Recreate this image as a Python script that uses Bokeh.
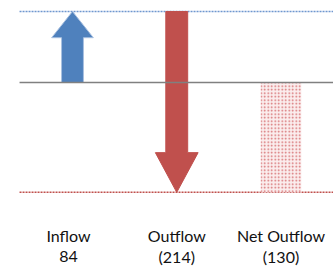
from bokeh.plotting import figure
from bokeh.models import ColumnDataSource, Range1d
from bokeh.embed import file_html
from bokeh.resources import INLINE
from bokeh.core.properties import value

categories = ["Inflow", "Outflow", "Net Outflow"]
values = [84, -214, -130]

inflow = values[0]
outflow = values[1]
net = values[2]

def fmt(v):
    return str(v) if v >= 0 else "(%d)" % (-v)

p = figure(width=333, height=267, output_backend="svg", toolbar_location=None,
           x_range=Range1d(-0.6906, 2.5036), y_range=Range1d(-218.9, 97.0),
           min_border=0)
p.axis.visible = False
p.grid.visible = False
p.outline_line_color = None
p.background_fill_color = "white"
p.border_fill_color = "white"

def arrow(x, y0, y1, w, W, h):
    d = 1 if y1 > y0 else -1
    yb = y1 - d * h
    return ([x - w, x + w, x + w, x + W, x, x - W, x - w],
            [y0, y0, yb, yb, y1, yb, yb])

xs1, ys1 = arrow(0, 0, inflow, 0.105, 0.2, 31)
xs2, ys2 = arrow(1, inflow, inflow + outflow, 0.105, 0.205, 47)

# reference lines
p.line([-0.508, 2.6], [inflow, inflow], line_color="#6F97CF", line_width=1.5, line_dash="2 1")
p.line([-0.508, 2.6], [net, net], line_color="#C0504D", line_width=1.5, line_dash="2 1")

# net bar with dotted hatch
p.vbar(x=[2], top=[0], bottom=[net], width=0.39, fill_color="#FBEDED", line_color=None,
       hatch_pattern=".", hatch_color="#D46A6D", hatch_scale=3.5, hatch_weight=1.5)

p.patch(xs1, ys1, fill_color="#4F81BD", line_color="#A8C0E0", line_width=1)
p.patch(xs2, ys2, fill_color="#C0504D", line_color="#C0504D", line_width=1)

p.line([-0.508, 2.6], [0, 0], line_color="#808080", line_width=1.5)

src = ColumnDataSource(dict(x=[0, 1, 2], name=categories, val=[fmt(v) for v in values],
                            xo=[-4, 0, 0]))
p.text(x="x", y=-181, text="name", source=src, x_offset="xo", text_align="center",
       text_baseline="middle", text_font=value("Lato"), text_font_size="16px", text_color="#111111")
p.text(x="x", y=-205.5, text="val", source=src, x_offset="xo", text_align="center",
       text_baseline="middle", text_font=value("Lato"), text_font_size="16px", text_color="#111111")

open("out.html", "w").write(file_html(p, INLINE))
